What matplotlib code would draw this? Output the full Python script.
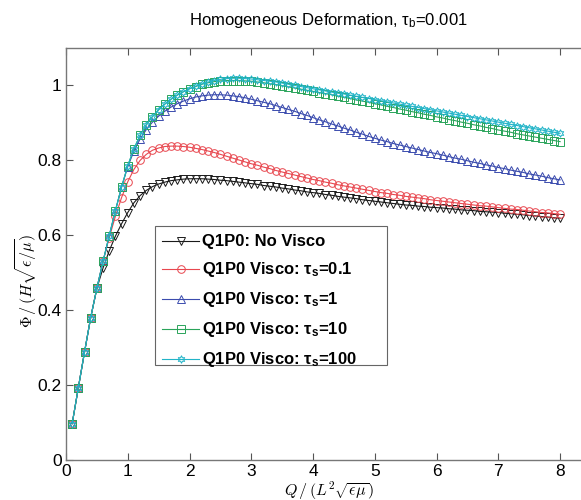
import numpy as np
import matplotlib
matplotlib.use("Agg")
import matplotlib.pyplot as plt
from matplotlib.patches import Rectangle

plt.rcParams['font.family'] = ['Liberation Sans', 'DejaVu Sans']
plt.rcParams['mathtext.fontset'] = 'cm'

# ---- data ----
q = np.round(np.arange(1, 81) * 0.1, 2)  # 0.1 ... 8.0

no_visco = [0.097, 0.193, 0.288, 0.380, 0.458,
            0.512, 0.558, 0.597, 0.630, 0.660, 0.686, 0.705, 0.719, 0.729, 0.736,
            0.741, 0.745, 0.747, 0.749, 0.750, 0.750, 0.750, 0.749, 0.748, 0.746,
            0.745, 0.743, 0.741, 0.739, 0.737, 0.735, 0.732, 0.730, 0.728, 0.725,
            0.723, 0.720, 0.718, 0.715, 0.713, 0.711, 0.708, 0.706, 0.703, 0.701,
            0.699, 0.697, 0.694, 0.692, 0.690, 0.688, 0.686, 0.684, 0.682, 0.680,
            0.679, 0.677, 0.676, 0.674, 0.673, 0.672, 0.670, 0.669, 0.667, 0.666,
            0.665, 0.663, 0.662, 0.661, 0.660, 0.658, 0.657, 0.655, 0.654, 0.652,
            0.651, 0.649, 0.648, 0.646, 0.645]

visco_01 = [0.097, 0.193, 0.288, 0.380, 0.458, 0.530,
            0.593, 0.650, 0.700, 0.742, 0.775, 0.799, 0.815, 0.826, 0.832,
            0.836, 0.837, 0.837, 0.836, 0.834, 0.831, 0.828, 0.824, 0.820, 0.815,
            0.810, 0.805, 0.800, 0.795, 0.790, 0.786, 0.781, 0.777, 0.772, 0.768,
            0.764, 0.760, 0.756, 0.752, 0.748, 0.745, 0.741, 0.738, 0.734, 0.731,
            0.728, 0.725, 0.722, 0.719, 0.716, 0.713, 0.711, 0.708, 0.706, 0.703,
            0.701, 0.699, 0.697, 0.694, 0.692, 0.690, 0.688, 0.686, 0.684, 0.682,
            0.680, 0.678, 0.677, 0.675, 0.673, 0.671, 0.669, 0.668, 0.666, 0.664,
            0.662, 0.660, 0.659, 0.657, 0.655]

visco_1 = [0.097, 0.193, 0.288, 0.380, 0.458, 0.530, 0.598, 0.665, 0.728,
           0.782, 0.824, 0.856, 0.881, 0.901, 0.917, 0.930, 0.941, 0.950, 0.957,
           0.963, 0.968, 0.971, 0.973, 0.974, 0.974, 0.973, 0.971, 0.969, 0.966,
           0.962, 0.958, 0.954, 0.950, 0.945, 0.940, 0.935, 0.930, 0.924, 0.919,
           0.913, 0.907, 0.902, 0.896, 0.891, 0.885, 0.880, 0.874, 0.869, 0.863,
           0.858, 0.853, 0.849, 0.844, 0.840, 0.836, 0.832, 0.828, 0.824, 0.820,
           0.817, 0.813, 0.809, 0.805, 0.802, 0.798, 0.794, 0.791, 0.787, 0.784,
           0.780, 0.777, 0.773, 0.770, 0.767, 0.763, 0.760, 0.757, 0.753, 0.750,
           0.747]

visco_10 = [0.097, 0.193, 0.288, 0.380, 0.458, 0.530, 0.598, 0.665, 0.728,
            0.785, 0.830, 0.866, 0.894, 0.916, 0.934, 0.949, 0.962, 0.973, 0.982,
            0.990, 0.996, 1.002, 1.006, 1.009, 1.011, 1.012, 1.012, 1.012, 1.011,
            1.010, 1.008, 1.006, 1.003, 1.001, 0.998, 0.995, 0.992, 0.989, 0.986,
            0.983, 0.980, 0.977, 0.974, 0.970, 0.967, 0.964, 0.960, 0.957, 0.954,
            0.950, 0.947, 0.943, 0.940, 0.936, 0.933, 0.929, 0.926, 0.922, 0.919,
            0.915, 0.912, 0.908, 0.905, 0.901, 0.898, 0.894, 0.891, 0.887, 0.884,
            0.880, 0.877, 0.874, 0.870, 0.867, 0.864, 0.861, 0.858, 0.855, 0.852,
            0.849]

visco_100 = [0.097, 0.193, 0.288, 0.380, 0.458, 0.530, 0.598, 0.665, 0.728,
             0.785, 0.830, 0.866, 0.894, 0.916, 0.934, 0.949, 0.962, 0.973, 0.982,
             0.990, 0.997, 1.003, 1.008, 1.012, 1.015, 1.017, 1.018, 1.018, 1.017,
             1.016, 1.014, 1.012, 1.010, 1.008, 1.005, 1.002, 0.999, 0.996, 0.993,
             0.990, 0.987, 0.984, 0.981, 0.978, 0.976, 0.973, 0.970, 0.967, 0.964,
             0.961, 0.958, 0.955, 0.952, 0.949, 0.946, 0.943, 0.940, 0.937, 0.934,
             0.931, 0.928, 0.925, 0.922, 0.919, 0.916, 0.913, 0.910, 0.907, 0.904,
             0.901, 0.898, 0.895, 0.892, 0.889, 0.886, 0.883, 0.880, 0.877, 0.874,
             0.871]

labels = ["Q1P0: No Visco",
          r"Q1P0 Visco: $\mathregular{\tau_s}$=0.1",
          r"Q1P0 Visco: $\mathregular{\tau_s}$=1",
          r"Q1P0 Visco: $\mathregular{\tau_s}$=10",
          r"Q1P0 Visco: $\mathregular{\tau_s}$=100"]
series = [no_visco, visco_01, visco_1, visco_10, visco_100]
colors = ['#1a1a1a', '#e8474f', '#3b4cae', '#2aa45a', '#22b4c8']
markers = ['v', 'o', '^', 's', (6, 1, 0)]

xticks = [0, 1, 2, 3, 4, 5, 6, 7, 8]
yticks = [0, 0.2, 0.4, 0.6, 0.8, 1.0]
yticklabels = ['0', '0.2', '0.4', '0.6', '0.8', '1']

W, H = 581, 500
ax_l, ax_r, ax_b, ax_t = 66, 591, 40, 452.5   # pixel extents (from bottom)
fig = plt.figure(figsize=(W/100, H/100), dpi=100)
ax = fig.add_axes([ax_l/W, ax_b/H, (ax_r-ax_l)/W, (ax_t-ax_b)/H])

for y, c, m, lab in zip(series, colors, markers, labels):
    ax.plot(q, y, color=c, lw=0.8, marker=m, ms=5.5, mfc='none',
            mec=c, mew=0.7, label=lab)

ax.set_xlim(0, 8.5)
ax.set_ylim(0, 1.1)
ax.set_xticks(xticks)
ax.set_yticks(yticks)
ax.set_yticklabels(yticklabels)
ax.tick_params(direction='in', length=5, width=0.8, top=True, right=True,
               labelsize=12.5, color='#555555', pad=3)
for s in ax.spines.values():
    s.set_color('#777777')
    s.set_linewidth(1.0)

ax.set_title(r"Homogeneous Deformation, $\mathregular{\tau_b}$=0.001",
             fontsize=12, pad=16)
ax.set_xlabel(r"$Q\,/\,(L^2\sqrt{\epsilon\mu})$", fontsize=11.5, labelpad=0)
ax.set_ylabel(r"$\Phi\,/\,(H\sqrt{\epsilon/\mu})$", fontsize=11.5)
ax.yaxis.set_label_coords((40-66)/(ax_r-ax_l), (460-281)/(ax_t-ax_b))

# legend box (frame drawn separately so it can be wider than the entries)
axw, axh = ax_r-ax_l, ax_t-ax_b
box_l, box_r, box_top, box_bot = 155, 387, 226, 365   # pixels from top
ax.add_patch(Rectangle(((box_l-ax_l)/axw, (H-box_bot-ax_b)/axh),
                       (box_r-box_l)/axw, (box_bot-box_top)/axh,
                       transform=ax.transAxes, facecolor='white',
                       edgecolor='#666666', lw=0.8, zorder=4))
leg = ax.legend(loc='upper left',
                bbox_to_anchor=((box_l-1-ax_l)/axw, (H-box_top-ax_b)/axh),
                borderaxespad=0, frameon=False,
                prop={'weight': 'bold', 'size': 12}, handlelength=2.2,
                handletextpad=0.15, labelspacing=0.66, borderpad=0.5)
leg.set_zorder(5)

fig.savefig('out.png', dpi=100)
